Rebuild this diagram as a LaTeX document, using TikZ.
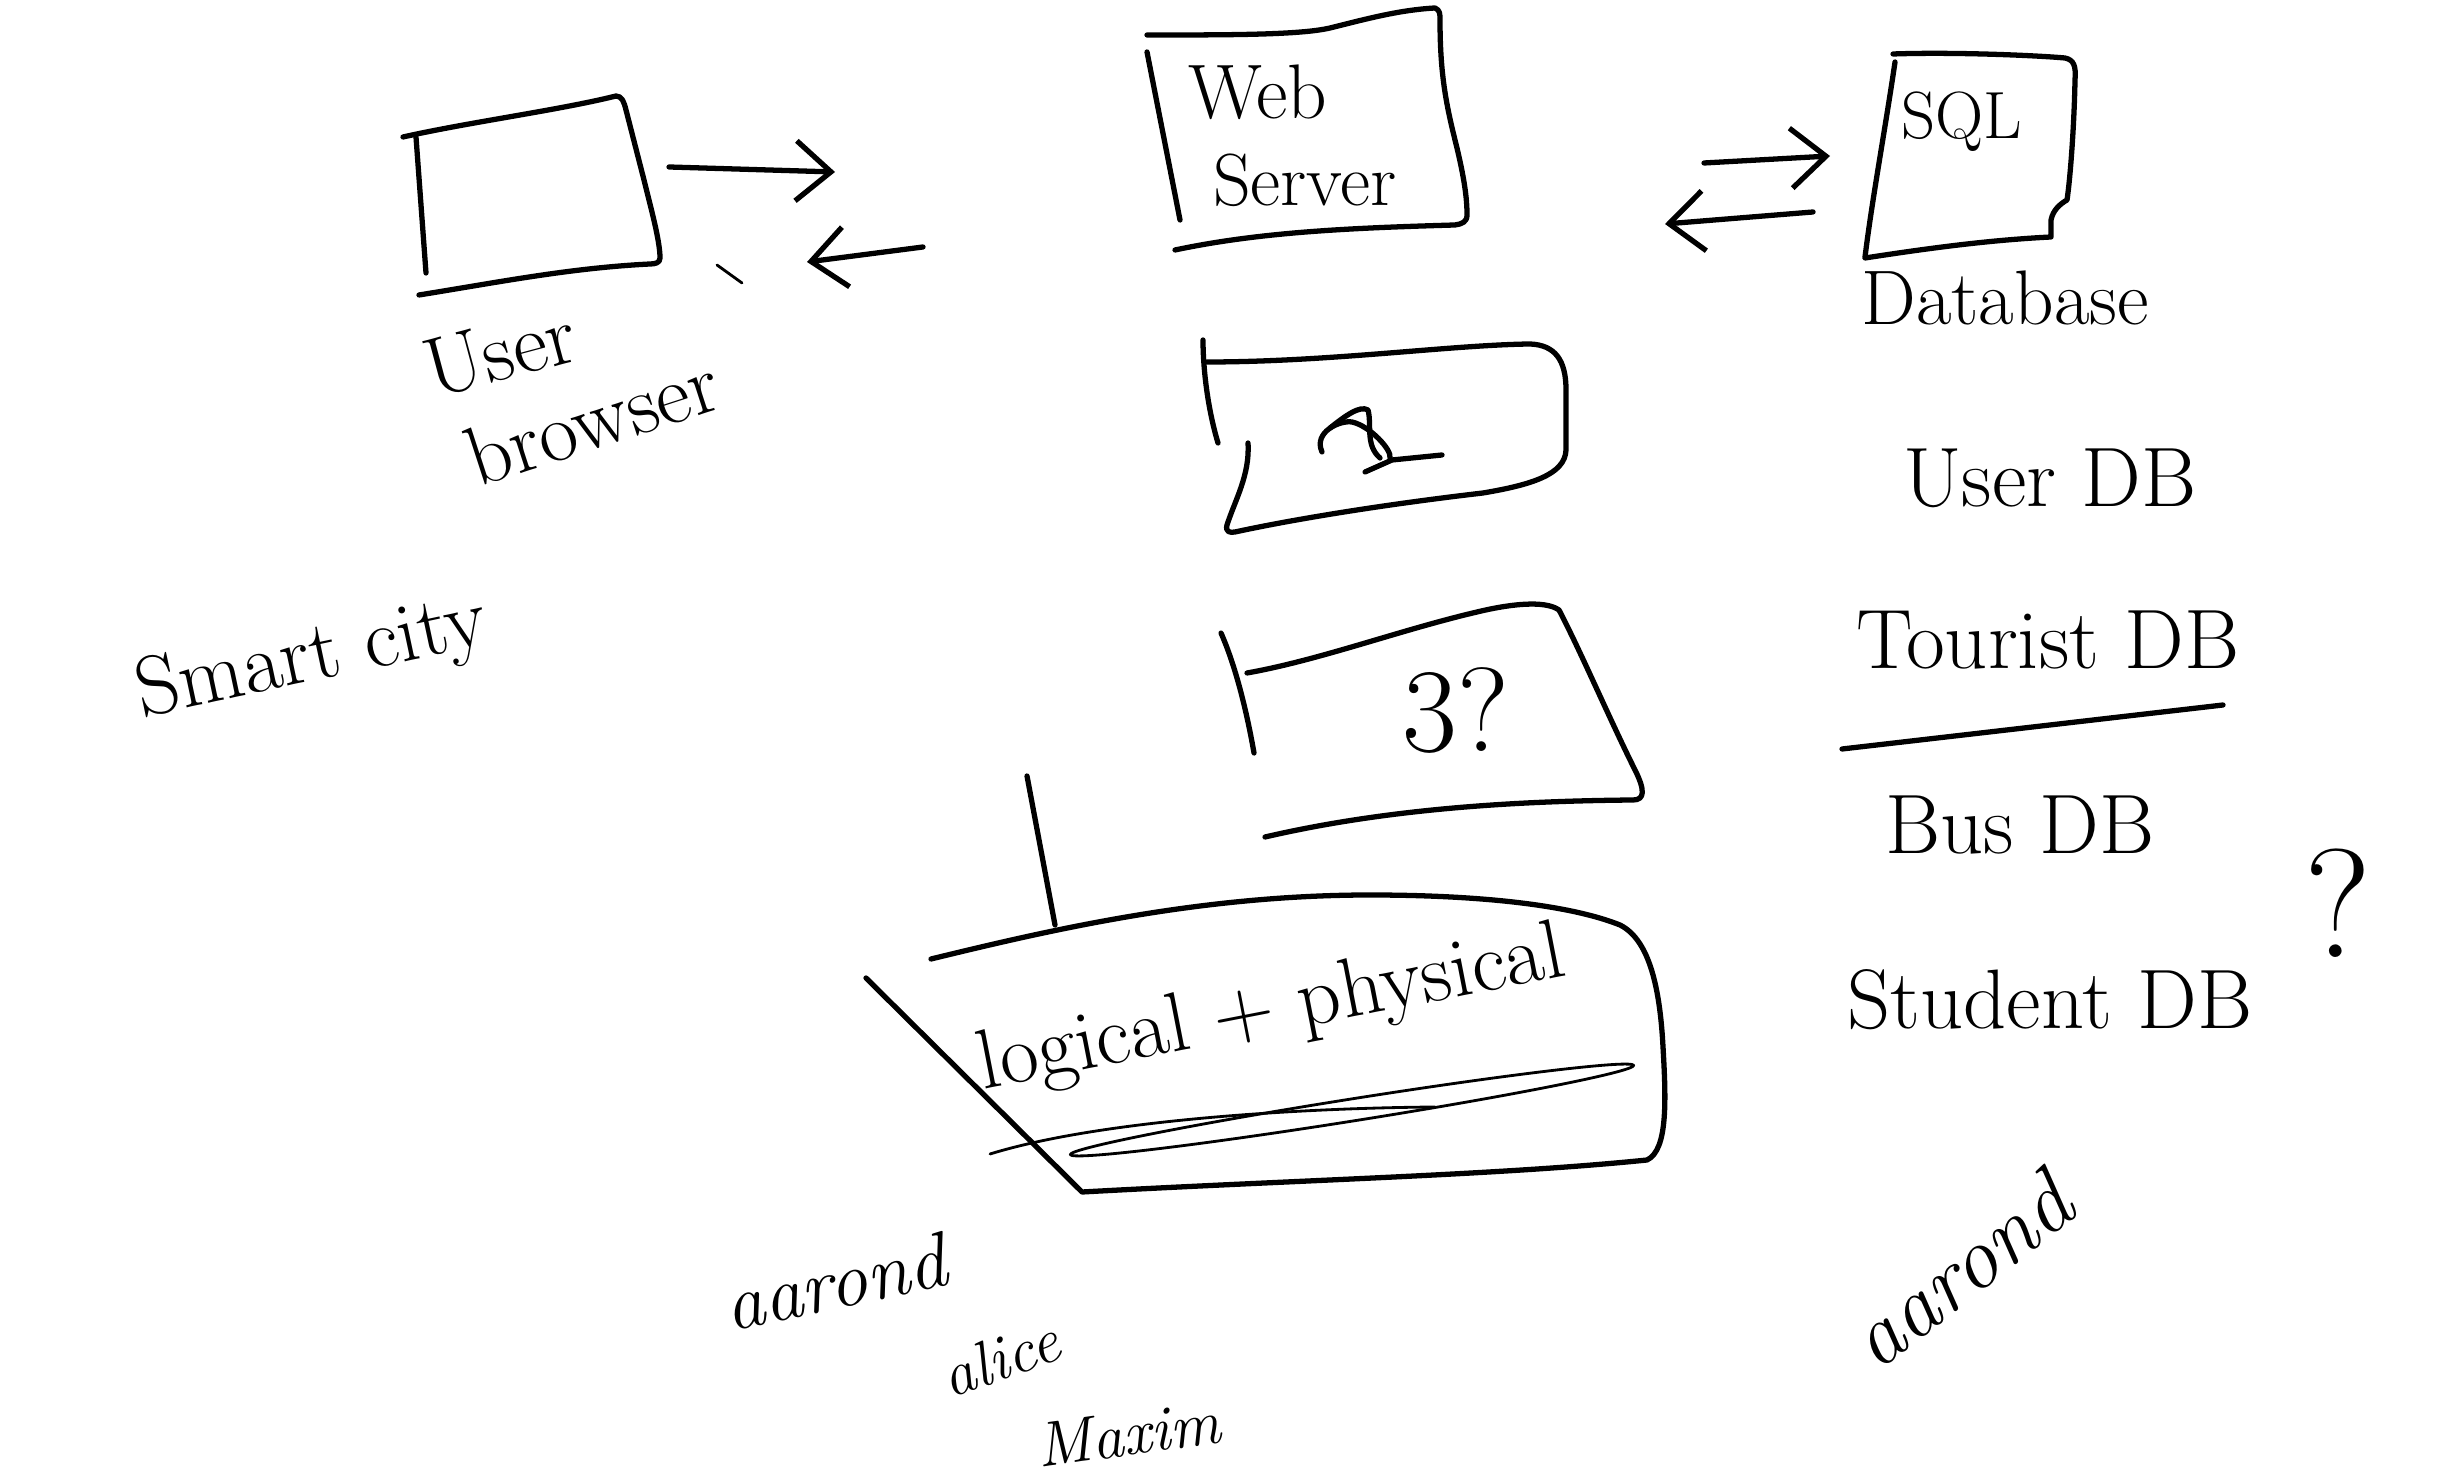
\documentclass[tikz,border=0pt]{standalone}
\usepackage{tikz}
\usetikzlibrary{arrows.meta}
\tikzstyle{ink}=[black, line width=1.5pt, line cap=round, line join=round]
\tikzstyle{thinink}=[black, line width=0.8pt, line cap=round, line join=round]
\tikzstyle{inkarrow}=[ink, -{Straight Barb[length=3.5mm, width=6mm]}]
\tikzstyle{note}=[black, inner sep=0pt, font=\fontsize{24}{28}\selectfont]
\tikzstyle{signature}=[black, inner sep=0pt, font=\itshape\fontsize{22}{26}\selectfont]

\begin{document}
\begin{tikzpicture}[x=0.01cm, y=-0.01cm]
\useasboundingbox (0,0) rectangle (2458,1480);

% user browser
\draw[ink] (416,137) -- (426,273);
\draw[ink] (403,137) .. controls (470,122) and (560,110) .. (616,96) .. controls (622,96) and (624,102) .. (626,110) -- (644,180) .. controls (650,205) and (660,240) .. (660,258) .. controls (660,263) and (655,264) .. (650,264) .. controls (570,268) and (500,282) .. (419,295);
\node[note, rotate=15] (user) at (500,352) {User};
\node[note, rotate=18] (browser) at (592,420) {browser};

% web server
\draw[ink] (1147,52) -- (1180,220);
\draw[ink] (1147,35) .. controls (1230,35) and (1300,35) .. (1330,28) .. controls (1370,18) and (1400,10) .. (1435,8) .. controls (1440,10) and (1440,14) .. (1440,20) .. controls (1440,70) and (1445,100) .. (1455,140) .. controls (1465,180) and (1467,200) .. (1467,215) .. controls (1467,222) and (1462,224) .. (1455,225) .. controls (1350,228) and (1260,232) .. (1175,250);
\node[note, font=\fontsize{22}{26}\selectfont] (web) at (1258,92) {Web};
\node[note, font=\fontsize{21}{25}\selectfont] (server) at (1305,180) {Server};

% sql database
\draw[ink] (1895,62) .. controls (1885,130) and (1872,200) .. (1865,257);
\draw[ink] (1893,54) .. controls (1950,52) and (2030,55) .. (2065,58) .. controls (2074,60) and (2076,66) .. (2075,80) .. controls (2074,130) and (2070,180) .. (2067,200) .. controls (2060,204) and (2053,210) .. (2051,220) -- (2051,237) .. controls (1990,240) and (1930,248) .. (1865,258);
\node[note, font=\fontsize{19}{23}\selectfont] (sql) at (1962,122) {SQL};
\node[note, font=\fontsize{22}{26}\selectfont] (database) at (2005,298) {Database};

% requests and responses
\coordinate (ub-out) at (669,167);
\coordinate (ws-req) at (835,172);
\coordinate (ws-resp) at (923,247);
\coordinate (ub-in) at (807,262);
\coordinate (ws-out) at (1704,163);
\coordinate (db-in) at (1830,156);
\coordinate (db-out) at (1813,212);
\coordinate (ws-in) at (1665,224);
\draw[inkarrow] (ub-out) -- (ws-req);
\draw[inkarrow] (ws-resp) -- (ub-in);
\draw[inkarrow] (ws-out) -- (db-in);
\draw[inkarrow] (db-out) -- (ws-in);
\draw[thinink] (717,265) -- (742,283);

% second box
\draw[ink] (1203,340) .. controls (1203,370) and (1208,410) .. (1218,443);
\draw[ink] (1248,443) .. controls (1250,475) and (1235,500) .. (1227,525) .. controls (1225,532) and (1230,533) .. (1235,532) .. controls (1290,520) and (1380,505) .. (1483,493) .. controls (1530,485) and (1565,475) .. (1566,450) -- (1566,390) .. controls (1566,360) and (1555,345) .. (1530,344) .. controls (1450,345) and (1330,362) .. (1207,362);
\draw[ink] (1322,452) .. controls (1313,432) and (1340,420) .. (1352,422) .. controls (1370,426) and (1392,450) .. (1390,458);
\draw[ink] (1330,428) .. controls (1345,416) and (1360,405) .. (1368,410) .. controls (1372,425) and (1365,445) .. (1380,458);
\draw[ink] (1365,472) -- (1392,460) -- (1442,455);

% third box
\draw[ink] (1221,633) .. controls (1236,667) and (1247,713) .. (1254,753);
\draw[ink] (1247,673) .. controls (1320,660) and (1400,630) .. (1477,612) .. controls (1510,604) and (1545,600) .. (1559,610) .. controls (1580,650) and (1610,720) .. (1635,770) .. controls (1645,790) and (1645,800) .. (1633,800) .. controls (1520,801) and (1390,808) .. (1265,837);
\node[note, font=\fontsize{34}{40}\selectfont] (three) at (1456,710) {3?};

% logical + physical
\draw[ink] (1027,776) -- (1055,925);
\draw[ink] (931,959) .. controls (1050,930) and (1200,895) .. (1370,895) .. controls (1480,895) and (1570,905) .. (1620,925) .. controls (1650,940) and (1660,990) .. (1663,1047) .. controls (1666,1100) and (1668,1150) .. (1647,1160) .. controls (1500,1175) and (1300,1180) .. (1082,1192) -- (866,978);
\node[note, rotate=11] (layers) at (1272,1012) {logical + physical};
\draw[thinink, rotate around={9:(1352,1110)}] (1352,1110) ellipse [x radius=2.85cm, y radius=0.11cm];
\draw[thinink] (990,1154) .. controls (1100,1120) and (1300,1108) .. (1435,1107);

% smart city
\node[note, rotate=12] (smart) at (312,660) {Smart city};

% databases
\node[note] (userdb) at (2050,478) {User DB};
\node[note] (touristdb) at (2048,640) {Tourist DB};
\draw[ink] (1842,749) -- (2223,705);
\node[note] (busdb) at (2020,825) {Bus DB};
\node[note] (studentdb) at (2050,1000) {Student DB};
\node[note, font=\fontsize{44}{50}\selectfont] (doubt) at (2338,903) {?};

% names
\node[signature, rotate=12] (aarondleft) at (835,1282) {aarond};
\node[signature, font=\itshape\fontsize{18}{22}\selectfont, rotate=20] (alice) at (1000,1358) {alice};
\node[signature, font=\itshape\fontsize{18}{22}\selectfont, rotate=8] (maxim) at (1128,1434) {Maxim};
\node[signature, font=\itshape\fontsize{25}{30}\selectfont, rotate=38] (aarondright) at (1960,1270) {aarond};
\end{tikzpicture}
\end{document}
